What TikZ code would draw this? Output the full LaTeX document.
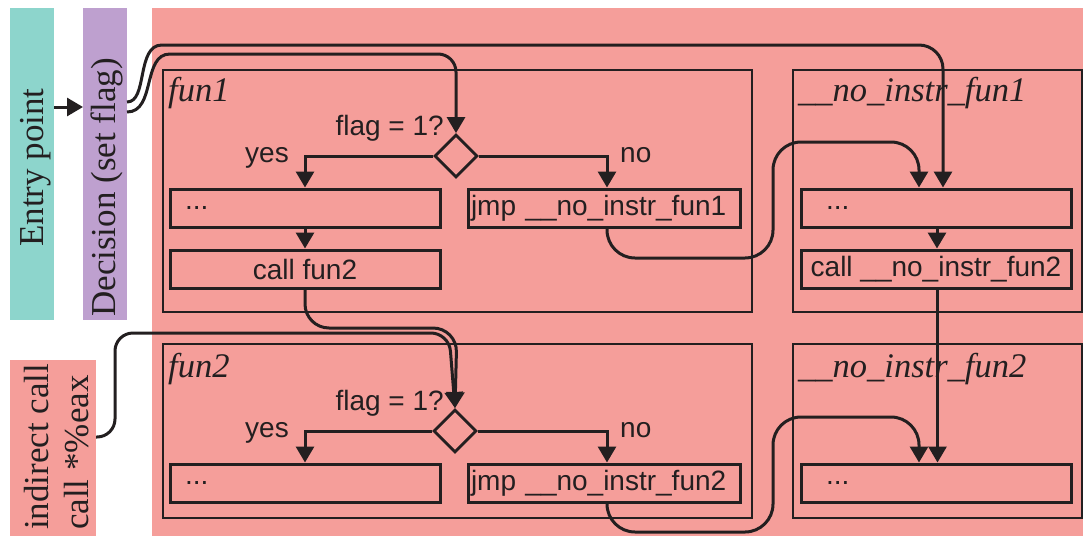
\documentclass[tikz,border=0pt]{standalone}
\usepackage{fontspec}
\setmainfont{Liberation Serif}
\newfontfamily\sansf{Liberation Sans}
\usetikzlibrary{shapes.geometric,arrows.meta}
\definecolor{teal0}{HTML}{8DD5CC}
\definecolor{lilac}{HTML}{BEA0CF}
\definecolor{salmon}{HTML}{F59E9A}
\definecolor{ink}{HTML}{231F20}
\begin{document}
\begin{tikzpicture}[x=1pt, y=-1pt,
  panel/.style={fill=#1, inner sep=0pt, outer sep=0pt},
  bandtext/.style={rotate=90, inner sep=0pt, anchor=base west, text=ink, font=\fontsize{35}{40}\selectfont},
  frame/.style={draw=ink, line width=1.3pt, inner sep=0pt},
  title/.style={inner sep=0pt, anchor=base west, text=ink, font=\fontsize{34.5}{40}\selectfont\itshape},
  stepbox/.style={draw=ink, line width=3pt, inner ysep=0pt, minimum height=38pt, text=ink, font=\sansf\fontsize{28}{32}\selectfont},
  lbl/.style={inner sep=0pt, text=ink, font=\sansf\fontsize{28}{32}\selectfont},
  test/.style={diamond, aspect=1, draw=ink, line width=2.8pt, inner sep=0pt, minimum width=43pt, minimum height=43pt},
  conn/.style={draw=ink, line width=3pt},
  arr/.style={conn, -{Triangle[length=16pt,width=18pt]}}
]
\useasboundingbox (0,0) rectangle (1083,536);

% coloured bands
\node[panel=teal0, minimum width=44pt, minimum height=312pt] (entry) at (32,164) {};
\node[panel=lilac, minimum width=44pt, minimum height=312pt] (dec) at (105,164) {};
\node[panel=salmon, minimum width=86pt, minimum height=176pt] (ind) at (53,448) {};
\node[panel=salmon, minimum width=931pt, minimum height=528pt] (code) at (617.5,272) {};

\node[bandtext] (entrytxt) at (43,247) {Entry point};
\node[bandtext] (dectxt) at (115,317) {Decision (set flag)};
\node[bandtext] (indtxt1) at (48,530) {indirect call};
\node[bandtext] (indtxt2) at (88,530) {call *\%eax};

% function frames
\node[frame, minimum width=589pt, minimum height=242pt] (fr1) at (457.5,191) {};
\node[frame, minimum width=289pt, minimum height=242pt] (fr2) at (937.5,191) {};
\node[frame, minimum width=589pt, minimum height=174pt] (fr3) at (457.5,431) {};
\node[frame, minimum width=289pt, minimum height=174pt] (fr4) at (937.5,431) {};

\node[title] (t1) at (168,101) {fun1};
\node[title] (t2) at (798,101) {\_\_no\_instr\_fun1};
\node[title] (t3) at (168,377) {fun2};
\node[title] (t4) at (798,377) {\_\_no\_instr\_fun2};

% fun1
\node[test] (d1) at (456,156) {};
\node[stepbox, text width=240pt, inner xsep=15pt, align=left] (f1a) at (305,208) {...};
\node[stepbox, minimum width=270pt] (f1b) at (305,269) {call fun2};
\node[stepbox, text width=266pt, inner xsep=3pt, align=left] (j1) at (604,208) {\mbox{jmp \_\_no\_instr\_fun1}};
\node[lbl, anchor=base east] (q1) at (444,135) {flag = 1?};
\node[lbl, anchor=base east] (y1) at (289,162) {yes};
\node[lbl, anchor=base west] (n1) at (620,162) {no};

% __no_instr_fun1
\node[stepbox, text width=220pt, inner xsep=25pt, align=left] (n1a) at (936,208) {...};
\node[stepbox, minimum width=270pt] (n1b) at (936,269) {call \_\_no\_instr\_fun2};

% fun2
\node[test] (d2) at (455,431) {};
\node[stepbox, text width=240pt, inner xsep=15pt, align=left] (f2a) at (305,483) {...};
\node[stepbox, text width=266pt, inner xsep=3pt, align=left] (j2) at (604,483) {\mbox{jmp \_\_no\_instr\_fun2}};
\node[lbl, anchor=base east] (q2) at (444,410) {flag = 1?};
\node[lbl, anchor=base east] (y2) at (289,437) {yes};
\node[lbl, anchor=base west] (n2) at (620,437) {no};

% __no_instr_fun2
\node[stepbox, text width=220pt, inner xsep=25pt, align=left] (n2a) at (936,483) {...};

% control flow
\draw[arr] ([yshift=57pt]entry.east) -- ([yshift=57pt]dec.west);
\draw[arr] ([yshift=62pt]dec.east) .. controls (148,102) and (136,45) .. (162,45)
  [rounded corners=24pt] -- (943,45) -- ([xshift=7pt]n1a.north);
\draw[arr] ([yshift=52pt]dec.east) .. controls (156,112) and (142,54) .. (170,54)
  [rounded corners=18pt] -- (456,54) -- (d1.north);

\draw[arr] (d1.west) -| (f1a.north);
\draw[arr] (d1.east) -| ([xshift=3pt]j1.north);
\draw[arr] (f1a.south) -- (f1b.north);
\draw[arr, rounded corners=28pt] ([xshift=3pt]j1.south) -- (607,258) -- (773,258)
  -- (773,142) -- (919,142) -- ([xshift=-17pt]n1a.north);
\draw[arr] ([xshift=1pt]n1a.south) -- ([xshift=1pt]n1b.north);

\draw[arr, rounded corners=24pt] (f1b.south) -- (305,328) -- (457,328) -- (d2.north);
\draw[arr, rounded corners=18pt] ([yshift=11pt]ind.east) -- (115,437) -- (115,333)
  -- (449,333) -- (d2.north);

\draw[arr] (d2.west) -| (f2a.north);
\draw[arr] (d2.east) -| ([xshift=3pt]j2.north);
\draw[arr, rounded corners=28pt] ([xshift=3pt]j2.south) -- (607,532) -- (773,532)
  -- (773,417) -- (919,417) -- ([xshift=-17pt]n2a.north);
\draw[arr] ([xshift=1.5pt]n1b.south) -- ([xshift=1.5pt]n2a.north);
\end{tikzpicture}
\end{document}
